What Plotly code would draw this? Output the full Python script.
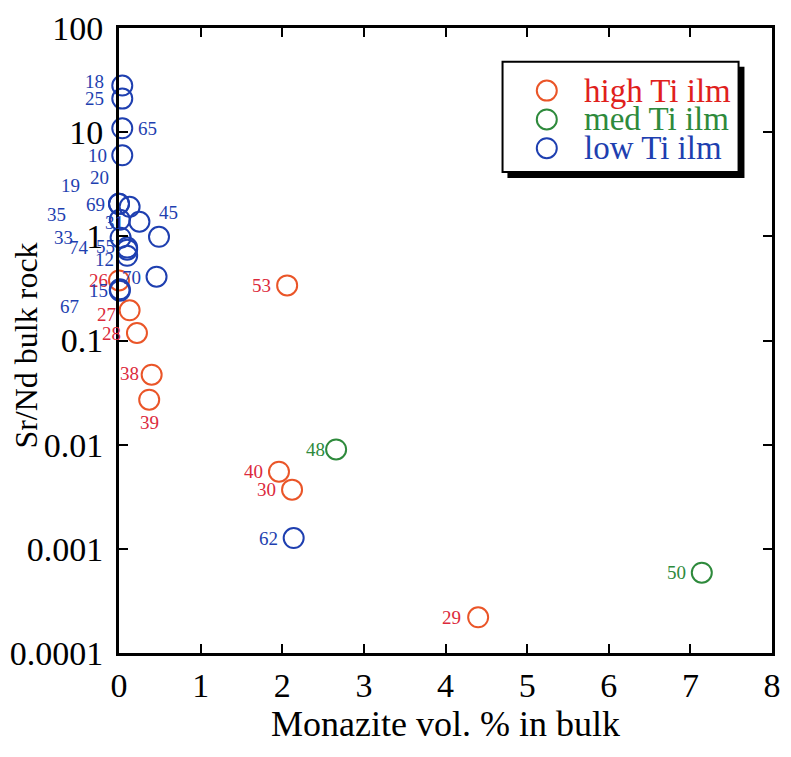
import numpy as np
import plotly.graph_objects as go

# ---------------- data ----------------
high_ids = ["53", "26", "27", "28", "38", "39", "40", "30", "29"]
high_x = [2.06, 0.00, 0.13, 0.22, 0.40, 0.37, 1.96, 2.12, 4.40]
high_y = [0.338, 0.377, 0.195, 0.118, 0.047, 0.027, 0.0055, 0.0037, 0.00022]

med_ids = ["48", "50"]
med_x = [2.66, 7.14]
med_y = [0.0090, 0.00059]

low_ids = ["18", "25", "65", "10", "20", "19", "69", "35", "31", "45",
           "33", "74", "55", "12", "70", "15", "67", "62"]
low_x = [0.04, 0.04, 0.04, 0.04, 0.13, 0.00, 0.00, 0.01, 0.25, 0.49,
         0.02, 0.10, 0.10, 0.10, 0.46, 0.01, 0.01, 2.14]
low_y = [28.0, 21.0, 10.9, 6.0, 1.92, 2.05, 2.05, 1.44, 1.38, 0.99,
         0.97, 0.745, 0.78, 0.65, 0.41, 0.31, 0.30, 0.00127]

x_ticks = [0, 1, 2, 3, 4, 5, 6, 7, 8]
y_tickvals = [100, 10, 1, 0.1, 0.01, 0.001, 0.0001]
y_ticktext = ["100", "10", "1", "0.1", "0.01", "0.001", "0.0001"]

legend_names = ["high Ti ilm", "med Ti ilm", "low Ti ilm"]

# ---------------- styles ----------------
RED_C, RED_T = "#EA5528", "#DC2A3C"
GRN_C, GRN_T = "#2E8A3C", "#2E8A3C"
BLU_C, BLU_T = "#1E3FB0", "#1E3FB0"
FONT = "Liberation Serif"

# label offsets (px, dx right, dy down) relative to marker
high_off = {"53": (-26, 0), "26": (-21, 0), "27": (-23, 4), "28": (-25, 0),
            "38": (-22, -1), "39": (0, 23), "40": (-25, 0), "30": (-26, 0),
            "29": (-27, 0)}
med_off = {"48": (-21, 0), "50": (-25, 0)}
low_off = {"18": (-28, -4), "25": (-28, 0), "65": (25, 0), "10": (-25, 0),
           "20": (-30, -29), "19": (-49, -18), "69": (-24, 1), "35": (-63, -5),
           "31": (-25, 1), "45": (9, -24), "33": (-57, 0), "74": (-48, -2),
           "55": (-22, -1), "12": (-23, 4), "70": (-25, 1), "15": (-21, 1),
           "67": (-50, 16), "62": (-25, 0)}

fig = go.Figure()

groups = [
    (high_ids, high_x, high_y, RED_C, RED_T, high_off),
    (med_ids, med_x, med_y, GRN_C, GRN_T, med_off),
    (low_ids, low_x, low_y, BLU_C, BLU_T, low_off),
]

annotations = []
for ids, xs, ys, cc, tc, offs in groups:
    fig.add_trace(go.Scatter(
        x=xs, y=ys, mode="markers", showlegend=False,
        marker=dict(symbol="circle-open", size=20, color=cc,
                    line=dict(width=2, color=cc)),
        cliponaxis=False,
    ))
    for i, xv, yv in zip(ids, xs, ys):
        dx, dy = offs[i]
        annotations.append(dict(
            x=xv, y=np.log10(yv), xref="x", yref="y", text=i,
            showarrow=False, xshift=dx, yshift=-dy,
            font=dict(family=FONT, size=19, color=tc),
        ))

# ---------------- legend (manual) ----------------
L, R, T, B = 117, 781, 24, 653
W, H = R - L, B - T
def px(xp):
    return (xp - L) / W
def py(yp):
    return (B - yp) / H

leg_rows = [87, 116, 145]
leg_colors = [(RED_C, "#E0201C"), (GRN_C, GRN_T), (BLU_C, BLU_T)]
fig.add_trace(go.Scatter(
    x=[px(552)] * 3, y=[py(r) for r in leg_rows], xaxis="x2", yaxis="y2",
    mode="markers", showlegend=False, hoverinfo="skip",
    marker=dict(symbol="circle-open", size=20,
                color=[c[0] for c in leg_colors],
                line=dict(width=2, color=[c[0] for c in leg_colors])),
))
for name, r, (cc, tc) in zip(legend_names, leg_rows, leg_colors):
    annotations.append(dict(
        x=px(588), y=py(r), xref="paper", yref="paper", text=name,
        xanchor="left", yanchor="middle", showarrow=False,
        font=dict(family=FONT, size=33, color=tc),
    ))

shapes = [
    dict(type="rect", xref="paper", yref="paper",
         x0=px(512), x1=px(753), y0=py(175), y1=py(63),
         fillcolor="black", line=dict(width=0), layer="below"),
    dict(type="rect", xref="paper", yref="paper",
         x0=px(507), x1=px(747), y0=py(169), y1=py(58),
         fillcolor="white", line=dict(width=2, color="black"), layer="below"),
]

# axis titles
annotations.append(dict(
    x=-0.143, y=py(344), xref="paper", yref="paper", text="Sr/Nd bulk rock",
    textangle=-90, showarrow=False, xanchor="center", yanchor="middle",
    font=dict(family=FONT, size=32, color="black"),
))
annotations.append(dict(
    x=0.5, y=py(724), xref="paper", yref="paper", text="Monazite vol. % in bulk",
    showarrow=False, xanchor="center", yanchor="middle",
    font=dict(family=FONT, size=36, color="black"),
))

fig.update_layout(
    width=791, height=757,
    margin=dict(l=L, r=791 - R, t=T, b=757 - B),
    paper_bgcolor="white", plot_bgcolor="white",
    font=dict(family=FONT, color="black"),
    showlegend=False,
    annotations=annotations,
    shapes=shapes,
    xaxis=dict(
        range=[0, 8], tickvals=x_ticks, ticktext=[str(v) for v in x_ticks],
        ticks="inside", ticklen=9, tickwidth=1.5, tickcolor="black",
        showline=True, linewidth=3, linecolor="black", mirror="ticks",
        showgrid=False, zeroline=False,
        tickfont=dict(family=FONT, size=34, color="black"),
        ticklabelstandoff=0,
    ),
    yaxis=dict(
        type="log", range=[-4, 2],
        tickvals=y_tickvals, ticktext=y_ticktext,
        ticks="inside", ticklen=9, tickwidth=1.5, tickcolor="black",
        showline=True, linewidth=3, linecolor="black", mirror="ticks",
        showgrid=False, zeroline=False,
        tickfont=dict(family=FONT, size=34, color="black"),
        ticklabelstandoff=6,
    ),
    xaxis2=dict(range=[0, 1], overlaying="x", visible=False, fixedrange=True),
    yaxis2=dict(range=[0, 1], overlaying="y", visible=False, fixedrange=True),
)

fig.write_html("out.html")
